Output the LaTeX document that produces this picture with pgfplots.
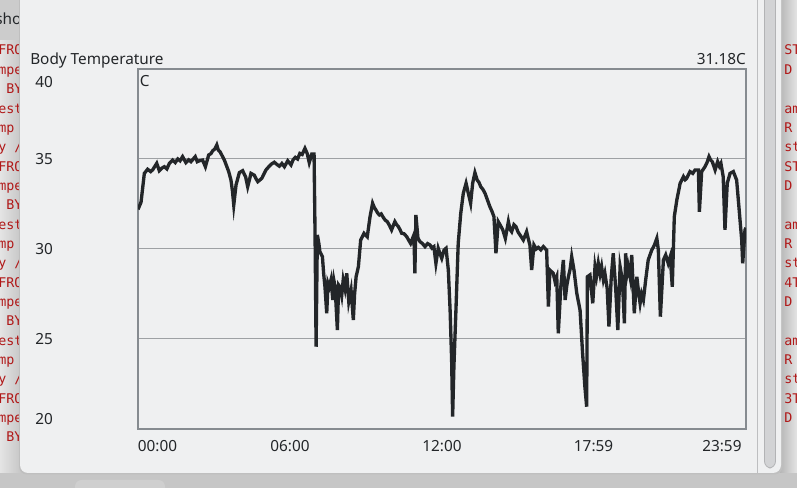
\documentclass[border=0pt]{standalone}
\usepackage{fontspec}
\setmainfont{Noto Sans}
\setmonofont{DejaVu Sans Mono}
\usepackage{pgfplots}
\usepackage{pgfplotstable}
\pgfplotsset{compat=1.18}
\definecolor{win}{HTML}{EFF0F1}
\definecolor{screen}{HTML}{C6C6C6}
\definecolor{term}{HTML}{E4E4E4}
\definecolor{ink}{HTML}{232629}
\definecolor{gridc}{HTML}{9EA1A4}
\definecolor{frame}{HTML}{868B90}
\definecolor{termred}{HTML}{B01818}
\definecolor{sbar}{HTML}{D2D3D5}

% hours since midnight, temperature in C
\pgfplotstableread{
h temp
0.00 32.2
0.12 32.6
0.25 34.2
0.38 34.43
0.50 34.3
0.58 34.4
0.74 34.76
0.84 34.35
0.95 34.5
1.04 34.57
1.14 34.45
1.24 34.76
1.37 34.94
1.47 34.8
1.57 35.0
1.66 34.9
1.76 35.13
1.89 34.8
2.00 34.95
2.09 34.85
2.18 35.0
2.26 35.13
2.34 34.85
2.42 34.9
2.55 34.94
2.66 34.57
2.79 35.22
2.88 35.3
2.95 35.46
3.03 35.55
3.11 35.78
3.17 35.5
3.24 35.4
3.41 34.94
3.58 34.3
3.67 33.83
3.73 33.2
3.78 32.44
3.87 33.56
4.00 34.24
4.13 34.35
4.25 34.0
4.33 33.46
4.46 34.2
4.59 34.1
4.66 33.9
4.73 33.74
4.89 33.93
5.05 34.39
5.15 34.55
5.25 34.7
5.38 34.82
5.48 34.7
5.58 34.6
5.68 34.75
5.78 34.57
5.91 34.9
6.04 34.67
6.12 34.95
6.21 35.09
6.30 35.0
6.39 35.31
6.48 35.25
6.59 35.59
6.68 35.3
6.76 34.8
6.86 35.28
6.95 35.28
6.99 30.68
7.03 24.57
7.08 30.78
7.14 30.3
7.18 29.85
7.28 29.57
7.33 28.6
7.38 27.9
7.45 26.43
7.50 28.1
7.55 27.9
7.62 28.3
7.69 27.17
7.74 28.2
7.78 27.9
7.87 25.5
7.92 28.0
7.97 27.9
8.04 27.4
8.10 28.28
8.17 27.8
8.24 28.65
8.32 27.08
8.41 27.72
8.50 26.06
8.55 27.5
8.61 28.46
8.70 29.02
8.79 30.5
8.92 30.87
9.05 30.68
9.16 31.8
9.26 32.54
9.33 32.3
9.39 32.17
9.46 32.0
9.53 31.89
9.60 31.95
9.68 31.76
9.76 31.6
9.84 31.52
9.93 31.3
10.01 31.06
10.14 31.52
10.21 31.35
10.28 31.24
10.35 31.05
10.41 30.87
10.50 30.85
10.61 30.68
10.68 30.5
10.76 30.31
10.84 30.6
10.89 30.78
10.93 28.65
10.97 31.89
11.05 30.6
11.13 30.41
11.23 30.3
11.33 30.13
11.43 30.3
11.53 30.22
11.60 30.05
11.68 30.13
11.76 29.2
11.85 30.04
11.93 29.7
11.99 29.48
12.08 29.94
12.16 30.04
12.25 28.83
12.32 26.6
12.38 23.83
12.42 20.69
12.47 23.46
12.55 26.6
12.64 30.31
12.74 31.98
12.84 33.09
12.95 33.65
13.04 33.09
13.13 32.54
13.21 33.65
13.30 34.24
13.39 33.83
13.46 33.7
13.53 33.46
13.62 33.3
13.70 33.09
13.80 32.7
13.89 32.35
13.97 32.1
14.05 31.8
14.13 29.76
14.22 31.52
14.31 31.3
14.40 31.06
14.50 30.59
14.62 31.52
14.68 31.1
14.75 30.96
14.84 31.35
14.92 31.24
15.00 30.95
15.08 30.78
15.21 30.5
15.34 30.96
15.40 30.6
15.47 30.22
15.54 28.83
15.63 30.22
15.72 30.0
15.80 30.09
15.90 29.95
16.00 30.13
16.13 29.94
16.20 26.8
16.26 28.83
16.39 28.65
16.46 28.2
16.53 28.46
16.59 25.31
16.69 27.9
16.79 29.39
16.86 27.17
16.93 28.0
16.99 28.46
17.06 28.9
17.12 29.57
17.21 28.83
17.32 27.54
17.45 26.6
17.55 24.2
17.64 22.35
17.71 21.24
17.74 28.46
17.84 28.56
17.95 26.98
18.04 29.02
18.10 28.5
18.17 29.2
18.24 28.6
18.30 29.02
18.37 28.3
18.43 28.65
18.52 27.8
18.59 25.69
18.68 28.4
18.76 29.76
18.86 27.72
18.94 25.5
19.03 29.02
19.12 28.28
19.20 25.87
19.25 29.76
19.30 28.6
19.35 29.02
19.43 28.4
19.49 29.67
19.59 26.43
19.69 28.46
19.76 27.6
19.82 26.98
19.88 27.5
19.95 27.17
20.04 28.28
20.14 29.39
20.28 29.94
20.38 30.2
20.48 30.59
20.54 29.94
20.62 26.24
20.74 29.39
20.83 29.67
20.93 29.2
21.01 29.57
21.09 27.9
21.17 31.8
21.27 32.72
21.40 33.65
21.53 34.02
21.60 33.85
21.66 33.93
21.79 34.3
21.90 34.2
21.99 34.39
22.12 34.39
22.16 32.07
22.25 34.3
22.38 34.57
22.46 34.8
22.54 35.13
22.60 34.95
22.67 34.85
22.78 34.39
22.88 34.85
22.95 34.6
23.01 34.76
23.10 34.02
23.17 31.06
23.26 33.65
23.37 34.2
23.50 34.3
23.63 33.83
23.72 32.35
23.83 30.5
23.87 29.2
23.96 31.06
24.00 31.18
}\temps

\begin{document}
\begin{tikzpicture}[x=0.75pt,y=0.75pt]
\clip (0,0) rectangle (797,488);
\fill[screen] (0,0) rectangle (797,488);
% terminal strips behind the window
\shade[left color=term, right color=term!85!black] (0,15) rectangle (24,448);
\shade[left color=term!80!black, right color=term] (780,15) rectangle (797,488);
\fill[screen!90!white] (0,448) rectangle (24,488);
\node[anchor=base west, inner sep=0, font=\fontsize{11.5}{14}\selectfont, text=ink] at (-5,463) {sho};
\foreach \t [count=\i from 0] in {FROM,mpe,~BY,est,mp,y~/,FROM,mpe,~BY,est,mp,y~/,FROM,mpe,~BY,est,mp,y~/,FROM,mpe,~BY}
  \node[anchor=base west, inner sep=0, font=\ttfamily\fontsize{10}{12}\selectfont, text=termred] at (-2,{433-19.35*\i}) {\t};
\foreach \t [count=\i from 0] in {ST,D,,am,R,st,ST,D,,am,R,st,4T,D,,am,R,st,3T,D}
  \node[anchor=base west, inner sep=0, font=\ttfamily\fontsize{10}{12}\selectfont, text=termred] at (784,{433-19.35*\i}) {\t};
\fill[screen!85!white, rounded corners=5] (75,-10) rectangle (165,8);
% window
\fill[black!25, rounded corners=6] (19,13.5) rectangle (782.5,500);
\fill[win, rounded corners=6] (20,15) rectangle (781,500);
\draw[sbar!90!black, line width=0.75pt] (757,15) -- (757,488);
\filldraw[fill=sbar, draw=sbar!85!black, line width=0.6pt, rounded corners=5] (764.5,20) rectangle (775.5,500);

\begin{axis}[
  at={(103.5pt,44.25pt)}, anchor=south west,
  scale only axis, width=456pt, height=270pt,
  xmin=0, xmax=24, ymin=20, ymax=40,
  axis background/.style={fill=win},
  axis line style={frame, line width=0.9pt},
  xtick={0.77,6,12,17.983,23.05},
  xticklabels={00:00,06:00,12:00,17:59,23:59},
  ytick={25,30,35}, yticklabels={25,30,35},
  extra y ticks={20.56,39.3}, extra y tick labels={20,40},
  extra y tick style={ymajorgrids=false},
  ymajorgrids, grid style={gridc, line width=0.75pt},
  major tick length=0pt,
  tick label style={font=\fontsize{11.5}{14}\selectfont, text=ink},
  /pgf/number format/assume math mode=true,
  xticklabel style={anchor=north, inner sep=0pt, yshift=-8.25pt},
  yticklabel style={anchor=west, inner sep=0pt, xshift=-77.25pt},
  clip=true,
]
\addplot[ink, line width=2.5pt, no markers] table[x=h, y=temp] {\temps};
\end{axis}
\node[anchor=base west, inner sep=0, font=\fontsize{11.5}{14}\selectfont, text=ink] at (30,423) {Body Temperature};
\node[anchor=base east, inner sep=0, font=\fontsize{11.5}{14}\selectfont, text=ink] at (746,423) {31.18C};
\node[anchor=base west, inner sep=0, font=\fontsize{11.5}{14}\selectfont, text=ink] at (139.5,401.5) {C};
\end{tikzpicture}
\end{document}
